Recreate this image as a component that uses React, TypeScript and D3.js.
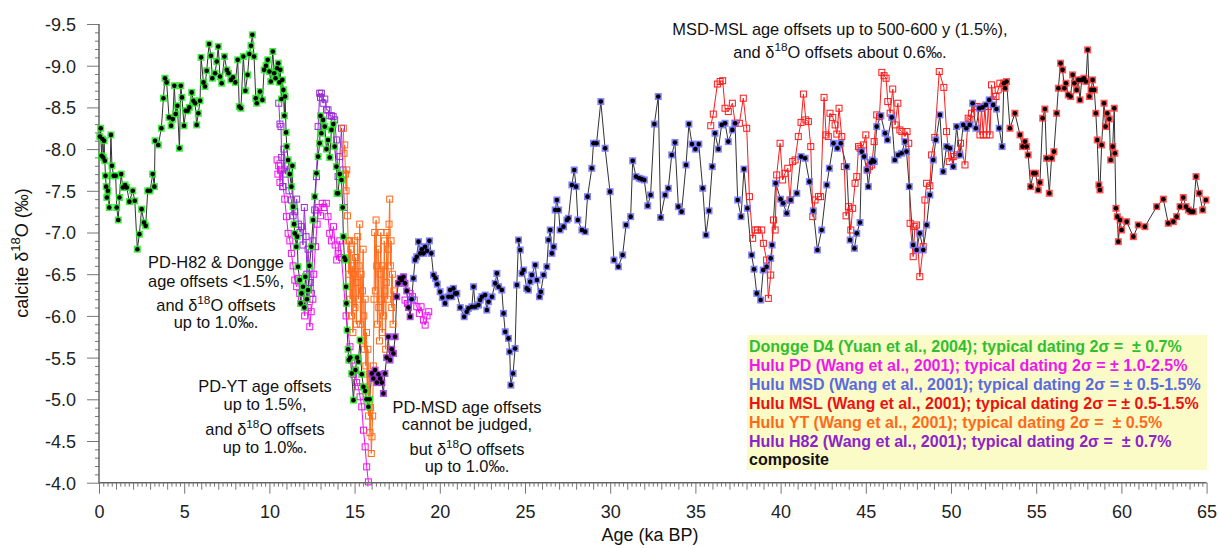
import React, { useEffect, useRef } from 'react';
import * as d3 from 'd3';

type Pt = [number, number]; // [age ka BP, calcite d18O]

// composite pieces, by the record that supplies them
const dongge: Pt[] = [
  [0.05, -8.15], [0.1, -8.25], [0.15, -7.92], [0.2, -8.12], [0.25, -7.9], [0.3, -8.1], [0.34, -7.86], [0.38, -7.68],
  [0.42, -7.55], [0.46, -7.42], [0.52, -7.5], [0.6, -7.3], [0.7, -8.17], [0.76, -7.8], [0.86, -7.68], [0.98, -7.68],
  [1.04, -7.3], [1.13, -7.15], [1.2, -7.42], [1.3, -7.7], [1.4, -7.54], [1.53, -7.57], [1.63, -7.54], [1.78, -7.37],
  [1.98, -7.5], [2.1, -7.38], [2.25, -6.8], [2.37, -6.98], [2.5, -7.28], [2.64, -7.12], [2.74, -7.08], [2.86, -7.5],
  [3.0, -7.5], [3.15, -7.7], [3.25, -7.55], [3.29, -8.1], [3.48, -8.05], [3.66, -8.25], [3.78, -8.61], [3.87, -8.85],
  [3.97, -8.8], [4.11, -8.38], [4.23, -8.28], [4.33, -8.36], [4.42, -8.76], [4.5, -8.42], [4.6, -8.52], [4.72, -8.01],
  [4.8, -8.76], [4.87, -8.62], [4.99, -8.28], [5.09, -8.46], [5.2, -8.46], [5.3, -8.5], [5.44, -8.68], [5.54, -8.58],
  [5.64, -8.55], [5.73, -8.29], [5.83, -8.43], [5.93, -8.58], [5.99, -9.1], [6.13, -8.8], [6.22, -8.75], [6.32, -8.94],
  [6.46, -9.26], [6.57, -9.12], [6.65, -8.85], [6.81, -8.91], [6.91, -9.05], [7.0, -9.23], [7.1, -8.87], [7.2, -8.79],
  [7.36, -9.11], [7.5, -8.95], [7.6, -8.91], [7.74, -8.83], [7.86, -8.86], [8.0, -8.8], [8.14, -9.07], [8.23, -8.51],
  [8.33, -8.49], [8.47, -9.11], [8.59, -8.7], [8.72, -8.89], [8.82, -9.14], [8.92, -9.24], [9.0, -9.37], [9.1, -9.11],
  [9.2, -8.61], [9.26, -8.55], [9.45, -8.69], [9.59, -8.59], [9.69, -8.95], [9.8, -9.0], [9.9, -9.07], [10.0, -8.93],
  [10.08, -8.81], [10.2, -9.17], [10.28, -8.91], [10.36, -8.85], [10.45, -8.97], [10.52, -9.03], [10.58, -8.8],
  [10.64, -8.95], [10.7, -8.6], [10.76, -8.83], [10.82, -8.71], [10.88, -8.4], [10.92, -8.63], [10.98, -8.2],
  [11.02, -8.03], [11.1, -7.87], [11.2, -7.7], [11.29, -7.55], [11.35, -7.8], [11.39, -7.31], [11.45, -7.1],
  [11.49, -6.99], [11.58, -6.83], [11.63, -6.95], [11.68, -6.59], [11.78, -6.43], [11.83, -6.15], [11.88, -6.27],
  [11.97, -6.35], [12.05, -6.1], [12.11, -6.47], [12.2, -6.2], [12.27, -6.31], [12.35, -6.6], [12.46, -6.83],
  [12.56, -7.15], [12.66, -7.43], [12.76, -7.71], [12.86, -7.91], [12.95, -8.07], [13.0, -8.4], [13.05, -8.19],
  [13.15, -8.35], [13.25, -8.27], [13.35, -8.0], [13.44, -8.11], [13.54, -7.9], [13.64, -8.23], [13.75, -8.3],
  [13.83, -8.03], [13.93, -7.79], [13.97, -7.47], [14.03, -7.47], [14.13, -7.7], [14.23, -7.63], [14.3, -7.3],
  [14.34, -6.95], [14.4, -6.7], [14.46, -6.67], [14.5, -6.35], [14.52, -6.15], [14.56, -5.83], [14.62, -5.6],
  [14.66, -5.47], [14.75, -5.5], [14.83, -5.31], [14.93, -4.99], [15.05, -5.35], [15.15, -5.5], [15.22, -5.45],
  [15.32, -5.71], [15.42, -5.3], [15.52, -5.15], [15.62, -5.1], [15.7, -5.0], [15.81, -4.91], [15.88, -5.0],
];

const h82Comp: Pt[] = [
  [16.01, -5.31], [16.1, -5.25], [16.2, -5.35], [16.3, -5.2], [16.4, -5.3], [16.5, -5.25], [16.6, -5.2], [16.69, -5.07],
  [16.78, -5.31], [16.88, -5.5], [16.98, -5.75], [17.08, -5.47], [17.18, -5.6], [17.28, -5.55], [17.38, -5.75],
  [17.47, -6.23], [17.57, -6.39], [17.67, -6.45], [17.77, -6.43], [17.87, -6.47], [17.96, -6.39], [18.06, -6.3],
  [18.16, -6.1], [18.26, -5.99],
];

const msdComp: Pt[] = [
  [18.35, -6.2], [18.45, -6.45], [18.55, -6.67], [18.65, -6.71], [18.75, -6.89], [18.85, -6.75], [18.95, -6.8],
  [19.05, -6.75], [19.14, -6.83], [19.25, -6.78], [19.39, -6.9], [19.5, -6.75], [19.63, -6.49], [19.75, -6.45],
  [19.85, -6.38], [20.02, -6.29], [20.15, -6.22], [20.31, -6.15], [20.5, -6.23], [20.6, -6.31], [20.7, -6.23],
  [20.8, -6.33], [20.9, -6.27], [21.0, -6.27], [21.2, -6.1], [21.43, -5.99], [21.58, -6.05], [21.68, -6.09],
  [21.88, -6.11], [21.98, -6.35], [22.08, -6.11], [22.27, -6.13], [22.37, -6.19], [22.47, -6.23], [22.66, -6.25],
  [22.76, -6.07], [22.86, -6.17], [23.06, -6.23], [23.25, -6.39], [23.35, -6.51], [23.45, -6.35], [23.64, -6.31],
  [23.74, -6.03], [23.84, -5.81], [24.03, -5.73], [24.1, -5.57], [24.17, -5.17], [24.3, -5.31], [24.42, -5.61],
  [24.52, -6.37], [24.62, -6.91], [24.72, -6.79], [24.82, -6.51], [24.92, -6.55], [25.1, -6.33], [25.2, -6.31],
  [25.3, -6.41], [25.4, -6.49], [25.6, -6.61], [25.7, -6.43], [25.85, -6.23], [25.93, -6.29], [26.09, -6.49],
  [26.28, -6.59], [26.38, -6.91], [26.48, -7.03], [26.58, -6.75], [26.68, -6.83], [26.77, -7.27], [26.87, -7.39],
  [26.97, -7.27], [27.06, -7.03], [27.26, -7.07], [27.46, -7.15], [27.55, -7.17], [27.75, -7.57], [27.89, -7.75],
  [28.0, -7.55], [28.1, -7.15], [28.34, -7.03], [28.53, -7.01], [28.67, -7.43], [28.92, -7.77], [29.02, -8.07],
  [29.2, -8.07], [29.45, -8.57], [29.7, -8.01], [29.99, -7.49], [30.22, -6.67], [30.48, -6.59], [30.73, -6.73],
  [30.93, -7.09], [31.2, -7.19], [31.32, -7.86], [31.51, -7.67], [31.7, -7.65], [31.85, -7.64], [32.0, -7.63],
  [32.2, -7.32], [32.37, -7.45], [32.59, -8.3], [32.82, -8.63], [32.96, -7.18], [33.22, -7.45], [33.41, -7.53],
  [33.61, -7.93], [33.8, -8.08], [34.0, -7.31], [34.19, -7.25], [34.45, -7.81], [34.62, -8.3], [34.8, -8.06],
  [35.0, -8.0], [35.2, -8.06], [35.43, -7.53], [35.62, -6.97], [35.8, -7.26], [35.99, -7.79], [36.15, -8.19],
  [36.35, -8.0], [36.54, -8.29], [36.74, -8.31], [36.93, -8.09], [37.17, -8.23], [37.33, -8.31], [37.48, -7.39],
  [37.68, -7.19], [37.85, -7.76], [38.05, -7.29], [38.3, -6.73], [38.44, -6.56], [38.6, -6.27], [38.83, -6.19],
  [38.98, -6.55], [39.18, -6.59], [39.42, -6.69], [39.5, -6.85], [39.71, -7.59], [40.0, -7.4], [40.15, -7.35],
  [40.36, -7.23], [40.59, -7.39], [40.95, -7.47], [41.2, -7.91], [41.44, -7.89], [41.69, -7.61], [41.92, -7.26],
  [42.16, -6.79], [42.41, -7.03], [42.71, -7.57], [42.86, -7.77], [43.1, -8.07], [43.33, -8.01], [43.53, -8.07],
  [43.88, -7.79], [44.08, -6.91], [44.33, -6.81], [44.47, -6.99], [44.66, -7.12], [44.76, -7.97], [44.9, -7.91],
  [45.06, -7.75], [45.15, -7.55], [45.29, -7.84], [45.4, -7.87], [45.5, -7.85], [45.64, -8.27], [45.88, -8.4],
  [46.13, -8.19], [46.27, -8.11], [46.52, -8.38], [46.7, -7.87], [46.9, -7.93], [47.1, -7.95], [47.3, -8.09],
  [47.39, -7.97], [47.55, -7.55], [47.78, -6.85], [47.98, -6.79], [48.17, -6.99], [48.37, -6.79], [48.57, -7.09],
  [48.76, -7.45], [48.96, -7.87], [49.11, -8.11], [49.35, -8.41], [49.54, -7.73], [49.74, -8.03], [49.94, -8.01],
  [50.13, -7.79], [50.33, -8.27], [50.52, -7.93], [50.72, -8.29], [50.9, -8.25], [51.1, -8.29], [51.27, -8.55],
  [51.46, -8.25], [51.66, -8.49], [51.85, -8.5], [52.05, -8.53], [52.24, -8.59], [52.48, -8.53], [52.67, -8.48],
  [52.83, -8.25], [53.0, -8.03],
];

const mslComp: Pt[] = [
  [53.1, -8.79], [53.17, -8.73], [53.26, -8.81], [53.46, -8.25], [53.75, -8.43], [54.05, -8.17], [54.2, -8.03],
  [54.34, -8.09], [54.44, -8.03], [54.53, -7.93], [54.67, -7.55], [54.83, -7.71], [54.96, -7.71], [55.12, -7.51],
  [55.22, -7.6], [55.38, -8.37], [55.51, -8.48], [55.61, -7.89], [55.77, -7.47], [55.9, -7.89], [56.04, -7.97],
  [56.2, -8.43], [56.3, -8.73], [56.43, -9.03], [56.55, -8.95], [56.65, -8.73], [56.75, -8.79], [56.88, -8.65],
  [57.02, -8.63], [57.14, -8.89], [57.24, -8.79], [57.37, -8.71], [57.47, -8.83], [57.57, -8.59], [57.67, -8.83],
  [57.8, -8.85], [57.92, -8.81], [58.02, -9.19], [58.12, -8.63], [58.22, -8.71], [58.31, -8.83], [58.41, -8.71],
  [58.5, -8.43], [58.58, -8.11], [58.68, -7.57], [58.74, -7.51], [58.84, -8.05], [58.98, -8.55], [59.07, -8.27],
  [59.17, -8.43], [59.29, -8.36], [59.37, -7.87], [59.49, -8.03], [59.58, -8.49], [59.62, -7.95], [59.68, -7.29],
  [59.76, -7.19], [59.82, -6.89], [59.92, -7.15], [60.01, -7.03], [60.31, -7.13], [60.7, -6.95], [60.99, -7.09],
  [61.38, -7.07], [62.07, -7.31], [62.46, -7.4], [62.75, -7.11], [63.05, -7.13], [63.24, -7.19], [63.44, -7.31],
  [63.63, -7.42], [63.79, -7.31], [63.93, -7.27], [64.07, -7.25], [64.22, -7.25], [64.38, -7.67], [64.57, -7.47],
  [64.77, -7.27], [64.96, -7.39],
];

// individual records shown beside the composite
const pdEarly: Pt[] = [
  [10.45, -7.87], [10.5, -7.7], [10.55, -7.8], [10.62, -7.6], [10.7, -7.75], [10.8, -7.55], [10.9, -7.4], [11.0, -7.19],
  [11.1, -6.99], [11.2, -6.9], [11.29, -6.75], [11.39, -6.6], [11.49, -6.43], [11.6, -6.35], [11.7, -6.45],
  [11.78, -6.27], [11.88, -6.2], [11.97, -6.15], [12.07, -6.0], [12.17, -6.25], [12.27, -6.1], [12.37, -5.87],
  [12.45, -6.05], [12.55, -6.2], [12.6, -6.5], [12.7, -6.83], [12.8, -7.1], [12.9, -7.3], [13.0, -7.2], [13.1, -7.35],
  [13.2, -7.3], [13.34, -7.35], [13.44, -7.19], [13.54, -6.99], [13.64, -6.9], [13.76, -7.07], [13.86, -6.85],
  [13.95, -6.67], [14.03, -6.75], [14.13, -6.9], [14.23, -6.7], [14.5, -6.0], [14.73, -5.63], [14.83, -5.47],
  [14.93, -5.3], [15.03, -5.35], [15.12, -5.2], [15.22, -5.15], [15.32, -5.03], [15.42, -4.91], [15.52, -4.63],
  [15.62, -4.43], [15.71, -4.19], [15.81, -4.01],
];

const pdLate: Pt[] = [
  [17.96, -6.19], [18.1, -6.15], [18.26, -6.27], [18.4, -6.23], [18.5, -6.19], [18.65, -6.11], [18.8, -6.03],
  [18.9, -6.11], [19.04, -5.95], [19.14, -5.89], [19.25, -6.0], [19.35, -6.05],
];

const h82Record: Pt[] = [
  [10.55, -8.55], [10.62, -8.3], [10.68, -8.27], [10.72, -7.9], [10.78, -7.55], [10.85, -8.0], [10.95, -7.7],
  [11.05, -7.8], [11.15, -7.5], [11.29, -7.39], [11.39, -7.2], [11.49, -7.25], [11.6, -7.4], [11.7, -7.1], [11.8, -7.0],
  [11.88, -7.07], [11.97, -6.85], [12.05, -7.3], [12.15, -6.95], [12.2, -6.5], [12.27, -6.8], [12.37, -6.4],
  [12.46, -6.27], [12.56, -6.9], [12.66, -7.27], [12.76, -7.67], [12.86, -8.27], [12.95, -8.67], [13.0, -8.62],
  [13.05, -8.67], [13.15, -8.55], [13.25, -8.6], [13.35, -8.47], [13.44, -8.47], [13.54, -8.4], [13.64, -8.4],
  [13.74, -8.39], [13.83, -8.35], [13.93, -8.11], [14.03, -7.67], [14.13, -7.91], [14.23, -8.25], [14.32, -7.75],
  [14.4, -7.3],
];

const ytRecord: Pt[] = [
  [14.34, -8.25], [14.38, -7.95], [14.42, -8.05], [14.46, -7.7], [14.5, -7.5], [14.54, -7.75], [14.58, -7.2],
  [14.62, -6.9], [14.66, -6.5], [14.7, -6.9], [14.74, -6.2], [14.78, -6.8], [14.82, -6.0], [14.86, -6.6], [14.9, -5.8],
  [14.94, -6.5], [14.98, -6.9], [15.02, -6.1], [15.06, -6.7], [15.1, -5.9], [15.14, -6.4], [15.18, -6.95],
  [15.22, -6.2], [15.26, -6.6], [15.3, -7.1], [15.34, -5.9], [15.38, -6.5], [15.42, -5.7], [15.46, -6.3], [15.5, -6.8],
  [15.54, -6.0], [15.58, -5.6], [15.62, -6.2], [15.66, -5.4], [15.7, -5.8], [15.74, -5.1], [15.78, -5.6], [15.82, -4.8],
  [15.86, -5.3], [15.9, -4.6], [15.94, -4.9], [15.98, -4.35], [16.02, -4.55], [16.06, -4.8], [16.1, -5.4],
  [16.14, -6.2], [16.18, -7.0], [16.22, -6.3], [16.26, -7.15], [16.3, -6.6], [16.34, -5.9], [16.38, -6.8],
  [16.42, -6.1], [16.46, -5.7], [16.5, -6.5], [16.54, -7.0], [16.58, -6.2], [16.62, -5.8], [16.66, -6.6], [16.7, -6.0],
  [16.74, -6.9], [16.78, -6.3], [16.82, -5.6], [16.86, -6.4], [16.9, -7.0], [16.94, -6.2], [16.98, -6.8],
  [17.02, -7.1], [17.06, -7.4], [17.1, -6.6], [17.14, -6.9], [17.18, -6.1], [17.22, -6.5], [17.26, -5.9], [17.3, -6.3],
];

const mslRecord: Pt[] = [
  [35.9, -8.28], [36.05, -8.42], [36.29, -8.78], [36.45, -8.81], [36.6, -8.82], [36.74, -8.49], [36.93, -8.45],
  [37.17, -8.55], [37.33, -8.31], [37.58, -8.31], [37.81, -8.61], [38.01, -8.25], [38.17, -7.43], [38.36, -6.93],
  [38.5, -7.03], [38.64, -7.03], [38.89, -7.03], [38.99, -6.87], [39.18, -6.67], [39.28, -6.21], [39.42, -6.49],
  [39.58, -7.15], [39.68, -7.03], [39.77, -7.69], [39.97, -8.07], [40.12, -7.63], [40.26, -7.71], [40.42, -7.77],
  [40.55, -7.39], [40.71, -7.85], [40.85, -7.87], [41.04, -8.15], [41.2, -8.32], [41.34, -8.66], [41.48, -8.35],
  [41.63, -8.33], [41.77, -8.03], [41.89, -7.19], [42.02, -7.39], [42.22, -7.43], [42.35, -7.43], [42.55, -8.62],
  [42.67, -8.17], [42.8, -8.15], [42.9, -8.43], [43.06, -8.38], [43.2, -8.29], [43.3, -8.18], [43.43, -8.49],
  [43.59, -8.15], [43.74, -7.79], [43.84, -7.2], [43.98, -7.31], [44.12, -7.03], [44.23, -7.29], [44.37, -7.59],
  [44.47, -7.67], [44.57, -8.03], [44.66, -8.01], [44.86, -8.05], [45.0, -8.17], [45.11, -7.75], [45.21, -7.79],
  [45.35, -7.81], [45.49, -8.09], [45.64, -8.41], [45.8, -8.39], [45.94, -8.92], [46.07, -8.88], [46.19, -8.85],
  [46.29, -8.57], [46.43, -8.43], [46.58, -8.72], [46.72, -8.29], [46.88, -8.55], [47.0, -8.23], [47.12, -8.21],
  [47.3, -8.15], [47.42, -8.21], [47.52, -8.07], [47.6, -7.11], [47.78, -6.71], [47.88, -7.07], [47.98, -7.09],
  [48.17, -6.47], [48.37, -6.83], [48.47, -7.39], [48.57, -7.59], [48.76, -7.56], [48.86, -7.93], [49.05, -8.14],
  [49.31, -8.93], [49.58, -8.74], [49.74, -8.21], [49.9, -7.85], [50.13, -7.91], [50.33, -7.93], [50.56, -8.07],
  [50.82, -7.81], [51.01, -8.37], [51.11, -8.35], [51.21, -8.43], [51.4, -8.51], [51.54, -8.51], [51.7, -8.17],
  [51.79, -8.49], [51.89, -8.17], [51.99, -8.51], [52.09, -8.17], [52.19, -8.51], [52.29, -8.17], [52.38, -8.77],
  [52.48, -8.59], [52.64, -8.63], [52.77, -8.71], [52.87, -8.79], [53.1, -8.79],
];

const xMajor = [0, 5, 10, 15, 20, 25, 30, 35, 40, 45, 50, 55, 60, 65];
const yMajor = [-9.5, -9.0, -8.5, -8.0, -7.5, -7.0, -6.5, -6.0, -5.5, -5.0, -4.5, -4.0];

const legendLines = [
  { text: 'Dongge D4 (Yuan et al., 2004); typical dating 2σ =  ± 0.7%', color: '#2fbf2f' },
  { text: 'Hulu PD (Wang et al., 2001); typical dating 2σ = ± 1.0-2.5%', color: '#ee18ee' },
  { text: 'Hulu MSD (Wang et al., 2001); typical dating 2σ = ± 0.5-1.5%', color: '#5a6ae0' },
  { text: 'Hulu MSL (Wang et al., 2001); typical dating 2σ = ± 0.5-1.5%', color: '#ee1111' },
  { text: 'Hulu YT (Wang et al., 2001); typical dating 2σ =  ± 0.5%', color: '#ff6a1a' },
  { text: 'Hulu H82 (Wang et al., 2001); typical dating 2σ =  ± 0.7%', color: '#8e24c8' },
  { text: 'composite', color: '#111' },
];

const FONT = '"Liberation Sans", Arial, sans-serif';

type Seg = { t: string; sup?: boolean };

const App = () => {
  const svgRef = useRef<SVGSVGElement>(null);

  useEffect(() => {
    const svg = d3.select(svgRef.current);
    svg.selectAll('*').remove();

    const x = d3.scaleLinear().domain([0, 65]).range([99, 1206.6]);
    const y = d3.scaleLinear().domain([-9.5, -4.0]).range([24, 482.7]);
    const y0 = y(-4.0);
    const x0 = x(0);

    // ticks: minor / medium / major on x, minor / major on y
    const addAxisX = (vals: number[], size: number, labels: boolean) => {
      const g = svg.append('g')
        .attr('transform', `translate(0,${y0})`)
        .call(d3.axisBottom(x).tickValues(vals).tickSize(size).tickSizeOuter(0)
          .tickFormat(labels ? (d => String(d)) : () => ''));
      g.select('.domain').remove();
      g.selectAll('line').attr('stroke', '#777').attr('stroke-width', 1);
      g.selectAll('text').attr('font-family', FONT).attr('font-size', 18).attr('fill', '#222')
        .attr('y', 0).attr('dy', 0).attr('transform', `translate(0,${518 - y0})`);
    };
    addAxisX(d3.range(0, 65.01, 0.25).filter(v => v % 1 !== 0), 4, false);
    addAxisX(d3.range(0, 66, 1).filter(v => v % 5 !== 0), 7, false);
    addAxisX(xMajor, 11, true);

    const addAxisY = (vals: number[], size: number, labels: boolean) => {
      const g = svg.append('g')
        .attr('transform', `translate(${x0},0)`)
        .call(d3.axisLeft(y).tickValues(vals).tickSize(size).tickSizeOuter(0)
          .tickFormat(labels ? (d => (d as number).toFixed(1)) : () => ''));
      g.select('.domain').remove();
      g.selectAll('line').attr('stroke', '#777').attr('stroke-width', 1);
      g.selectAll('text').attr('font-family', FONT).attr('font-size', 18).attr('fill', '#222')
        .attr('x', 76 - x0).attr('dy', '0.36em');
    };
    addAxisY(d3.range(-9.5, -3.99, 0.1).map(v => Math.round(v * 10) / 10).filter(v => !yMajor.includes(v)), 4, false);
    addAxisY(yMajor, 12, true);

    svg.append('path')
      .attr('d', `M${x0},${y(-9.5)}V${y0}H${x(65)}`)
      .attr('fill', 'none').attr('stroke', '#666').attr('stroke-width', 1.5);

    const line = d3.line<Pt>().x(d => x(d[0])).y(d => y(d[1]));

    // composite line underneath
    const composite = [...dongge, ...h82Comp, ...msdComp, ...mslComp];
    svg.append('path').datum(composite)
      .attr('d', line).attr('fill', 'none').attr('stroke', '#333').attr('stroke-width', 1);

    // separate records: coloured line + hollow squares
    const records: { data: Pt[]; color: string }[] = [
      { data: pdEarly, color: '#f010f0' },
      { data: pdLate, color: '#f010f0' },
      { data: h82Record, color: '#9a2bd6' },
      { data: ytRecord, color: '#ff6a1a' },
      { data: mslRecord, color: '#ff1a1a' },
    ];
    records.forEach(r => {
      svg.append('path').datum(r.data)
        .attr('d', line).attr('fill', 'none').attr('stroke', r.color).attr('stroke-width', 1);
      svg.append('g').selectAll('rect').data(r.data).join('rect')
        .attr('x', d => x(d[0]) - 3).attr('y', d => y(d[1]) - 3)
        .attr('width', 6).attr('height', 6)
        .attr('fill', 'none').attr('stroke', r.color).attr('stroke-width', 1);
    });

    // composite markers: halo in source colour, black dot on top
    const compPieces: { data: Pt[]; color: string }[] = [
      { data: dongge, color: '#22e622' },
      { data: h82Comp, color: '#a033dd' },
      { data: msdComp, color: '#6c6cff' },
      { data: mslComp, color: '#ff3535' },
    ];
    compPieces.forEach(p => {
      const g = svg.append('g');
      g.selectAll('rect').data(p.data).join('rect')
        .attr('x', d => x(d[0]) - 3.5).attr('y', d => y(d[1]) - 3.5)
        .attr('width', 7).attr('height', 7).attr('fill', p.color).attr('opacity', 0.85);
      g.selectAll('circle').data(p.data).join('circle')
        .attr('cx', d => x(d[0])).attr('cy', d => y(d[1])).attr('r', 2.3).attr('fill', '#000');
    });

    // text with a superscript 18
    const richText = (segs: Seg[], cx: number, by: number, size: number, anchor = 'middle') => {
      const t = svg.append('text')
        .attr('x', cx).attr('y', by).attr('text-anchor', anchor)
        .attr('font-family', FONT).attr('font-size', size).attr('fill', '#111')
        .style('white-space', 'pre');
      let raised = false;
      segs.forEach(s => {
        const sp = t.append('tspan').text(s.t);
        if (s.sup) {
          sp.attr('font-size', size * 0.72).attr('dy', -size * 0.42);
          raised = true;
        } else if (raised) {
          sp.attr('dy', size * 0.42);
          raised = false;
        }
      });
      return t;
    };
    const d18 = (pre: string, post: string): Seg[] => [{ t: pre + 'δ' }, { t: '18', sup: true }, { t: 'O' + post }];

    const notes: { segs: Seg[]; cx: number; by: number }[] = [
      { segs: [{ t: 'MSD-MSL age offsets up to 500-600 y (1.5%),' }], cx: 840, by: 35 },
      { segs: d18('and ', ' offsets about 0.6‰.'), cx: 840, by: 58 },
      { segs: [{ t: 'PD-H82 & Dongge' }], cx: 216, by: 268 },
      { segs: [{ t: 'age offsets <1.5%,' }], cx: 216, by: 287 },
      { segs: d18('and ', ' offsets'), cx: 216, by: 311 },
      { segs: [{ t: 'up to 1.0‰.' }], cx: 216, by: 328 },
      { segs: [{ t: 'PD-YT age offsets' }], cx: 265, by: 392 },
      { segs: [{ t: 'up to 1.5%,' }], cx: 265, by: 410 },
      { segs: d18('and ', ' offsets'), cx: 265, by: 435 },
      { segs: [{ t: 'up to 1.0‰.' }], cx: 265, by: 453 },
      { segs: [{ t: 'PD-MSD age offsets' }], cx: 467, by: 413 },
      { segs: [{ t: 'cannot be judged,' }], cx: 467, by: 430 },
      { segs: d18('but ', ' offsets'), cx: 467, by: 455 },
      { segs: [{ t: 'up to 1.0‰.' }], cx: 467, by: 472 },
    ];
    notes.forEach(n => richText(n.segs, n.cx, n.by, 16.4));

    // legend
    svg.append('rect')
      .attr('x', 747).attr('y', 335).attr('width', 460).attr('height', 135)
      .attr('fill', '#fbfbc8');
    svg.append('g').selectAll('text').data(legendLines).join('text')
      .attr('x', 749).attr('y', (_d, i) => 352 + i * 18.9)
      .attr('font-family', FONT).attr('font-size', 16).attr('font-weight', 'bold')
      .attr('fill', d => d.color).style('white-space', 'pre')
      .text(d => d.text);

    // axis titles
    richText([{ t: 'Age (ka BP)' }], 650, 541, 18);
    richText(d18('calcite ', ' (‰)'), 0, 0, 18)
      .attr('transform', 'translate(28,253) rotate(-90)');
  }, []);

  return (
    <svg ref={svgRef} width={1219} height={548}
      style={{ position: 'absolute', left: 0, top: 0, background: '#fff' }} />
  );
};

export default App;
